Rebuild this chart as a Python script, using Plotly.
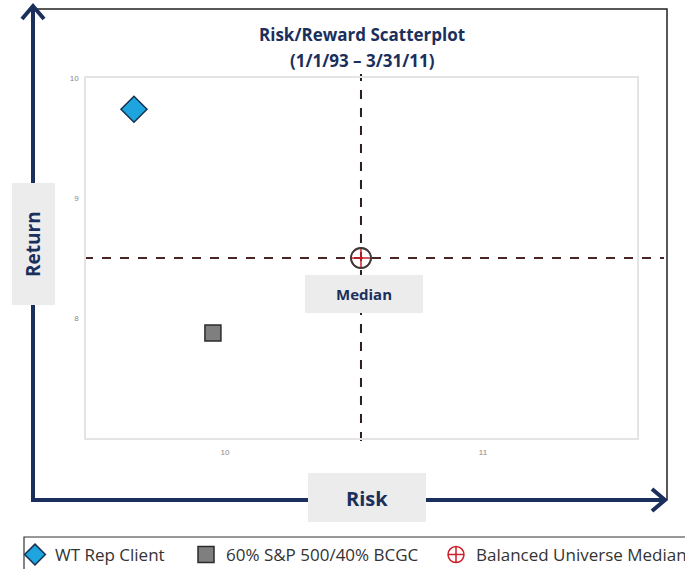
import plotly.graph_objects as go

# Risk (std. dev.) and return figures for each series
series_names = ["WT Rep Client", "60% S&P 500/40% BCGC", "Balanced Universe Median"]
risk_values = [9.647, 9.953, 10.527]
return_values = [9.74, 7.875, 8.5]

x_ticks = [10, 11]
y_ticks = [8, 9, 10]

W, H = 685, 569
L, R, T, B = 86, 637, 78, 438   # plot area in pixels


def px(x):
    return (x - L) / (R - L)


def py(y):
    return (B - y) / (B - T)


NAVY = "#1b2f5c"
FONT = "Open Sans"

fig = go.Figure()

fig.add_trace(go.Scatter(
    x=[risk_values[0]], y=[return_values[0]], mode="markers", name=series_names[0],
    legend="legend",
    marker=dict(symbol="diamond", size=20, color="#1ea5e0",
                line=dict(color="#16304f", width=1.5)),
))
fig.add_trace(go.Scatter(
    x=[risk_values[1]], y=[return_values[1]], mode="markers", name=series_names[1],
    legend="legend2",
    marker=dict(symbol="square", size=16, color="#7f7f7f",
                line=dict(color="#2b2b2b", width=1.5)),
))
fig.add_trace(go.Scatter(
    x=[risk_values[2]], y=[return_values[2]], mode="markers", name=series_names[2],
    legend="legend3",
    marker=dict(symbol="circle-cross-open", size=20, color="#d0202a",
                line=dict(color="#d0202a", width=1.5)),
))
# dark ring drawn over the red crosshair
fig.add_trace(go.Scatter(
    x=[risk_values[2]], y=[return_values[2]], mode="markers", showlegend=False,
    hoverinfo="skip",
    marker=dict(symbol="circle-open", size=20, color="#3a3a3a",
                line=dict(color="#3a3a3a", width=1.8)),
))

shapes = []
# median crosshair lines
shapes.append(dict(type="line", xref="x", yref="paper",
                   x0=risk_values[2], x1=risk_values[2], y0=py(441), y1=py(74),
                   line=dict(color="#2a2020", width=2, dash="dash"), layer="below"))
shapes.append(dict(type="line", xref="paper", yref="y",
                   x0=px(84), x1=px(664), y0=return_values[2], y1=return_values[2],
                   line=dict(color="#4a2525", width=2, dash="dash"), layer="below"))
# outer frame (top and right)
shapes.append(dict(type="path", xref="paper", yref="paper",
                   path=f"M {px(33)},{py(9)} L {px(667)},{py(9)} L {px(667)},{py(500)}",
                   line=dict(color="#222222", width=1.5)))
# axis arrows
shapes.append(dict(type="line", xref="paper", yref="paper",
                   x0=px(33), x1=px(33), y0=py(502), y1=py(6),
                   line=dict(color=NAVY, width=4)))
shapes.append(dict(type="line", xref="paper", yref="paper",
                   x0=px(31), x1=px(664), y0=py(500), y1=py(500),
                   line=dict(color=NAVY, width=4)))
shapes.append(dict(type="path", xref="paper", yref="paper",
                   path=f"M {px(22)},{py(19)} L {px(33)},{py(6)} L {px(44)},{py(19)}",
                   line=dict(color=NAVY, width=4)))
shapes.append(dict(type="path", xref="paper", yref="paper",
                   path=f"M {px(652)},{py(489)} L {px(665)},{py(500)} L {px(652)},{py(511)}",
                   line=dict(color=NAVY, width=4)))
# label panels
for x0, y0, x1, y1 in [(12, 183, 55, 305), (308, 473, 426, 522), (305, 275, 423, 313)]:
    shapes.append(dict(type="rect", xref="paper", yref="paper",
                       x0=px(x0), x1=px(x1), y0=py(y1), y1=py(y0),
                       fillcolor="#ececec", line=dict(width=0)))
# legend frame
shapes.append(dict(type="rect", xref="paper", yref="paper",
                   x0=px(24), x1=px(700), y0=py(575), y1=py(537),
                   line=dict(color="#333333", width=1.2), fillcolor="rgba(0,0,0,0)"))


def label(text, x, y, size, angle=0):
    return dict(text=text, xref="paper", yref="paper", x=px(x), y=py(y),
                xanchor="center", yanchor="middle", showarrow=False, textangle=angle,
                font=dict(family=FONT, size=size, color=NAVY, weight="bold"))


annotations = [
    label("Risk/Reward Scatterplot", 362, 34, 17),
    label("(1/1/93 \u2013 3/31/11)", 362, 61, 17),
    label("Return", 33, 244, 19, angle=-90),
    label("Risk", 367, 498, 20),
    label("Median", 364, 294, 15),
]


def legend_at(x):
    return dict(orientation="h", x=px(x), xanchor="left", y=py(555), yanchor="middle",
                bgcolor="rgba(0,0,0,0)", itemclick=False, itemdoubleclick=False,
                font=dict(family=FONT, size=17, color="#333333"))


axis_common = dict(showgrid=False, zeroline=False, showline=True, mirror=True,
                   linecolor="#e4e4e4", linewidth=1.5, ticks="",
                   tickfont=dict(family="Arial", size=8, color="#888888"))

fig.update_layout(
    width=W, height=H,
    margin=dict(l=L, r=W - R, t=T, b=H - B, autoexpand=False),
    paper_bgcolor="white", plot_bgcolor="white",
    shapes=shapes, annotations=annotations,
    showlegend=True,
    legend=legend_at(15), legend2=legend_at(186), legend3=legend_at(436),
    xaxis=dict(range=[9.461, 11.597], tickvals=x_ticks, ticktext=[str(v) for v in x_ticks],
               ticklabelstandoff=6, **axis_common),
    yaxis=dict(range=[7.0, 10.0], tickvals=y_ticks, ticktext=[str(v) for v in y_ticks],
               ticklabelstandoff=4, **axis_common),
)

fig.write_html("out.html")
